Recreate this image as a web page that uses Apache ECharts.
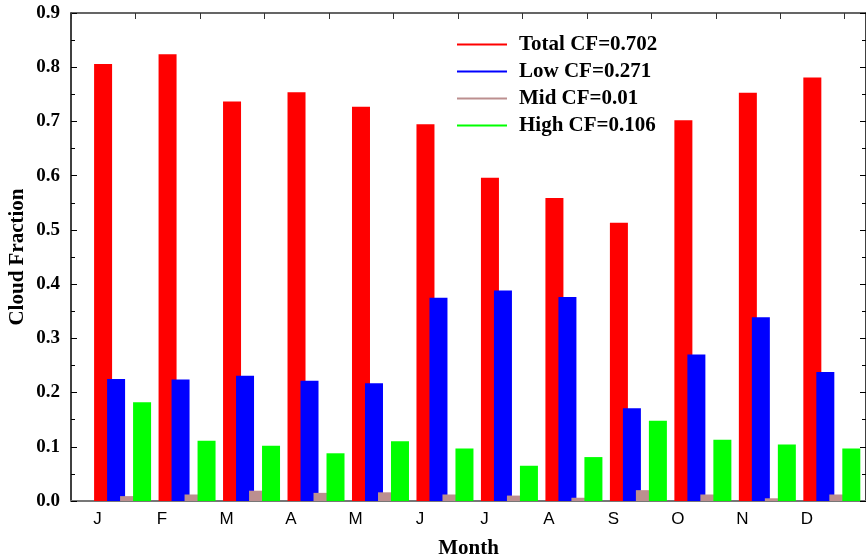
<!DOCTYPE html>
<html>
<head>
<meta charset="utf-8">
<script src="https://cdn.jsdelivr.net/npm/echarts@6/dist/echarts.min.js"></script>
<style>
  html, body { margin: 0; padding: 0; background: #fff; }
  #chart { width: 866px; height: 556px; }
</style>
</head>
<body>
<div id="chart"></div>
<script>
const months = ["J", "F", "M", "A", "M", "J", "J", "A", "S", "O", "N", "D"];
const totalCF = [0.806, 0.824, 0.737, 0.754, 0.727, 0.695, 0.596, 0.559, 0.513, 0.702, 0.753, 0.781];
const lowCF = [0.225, 0.224, 0.231, 0.222, 0.217, 0.375, 0.388, 0.376, 0.171, 0.270, 0.339, 0.238];
const midCF = [0.009, 0.012, 0.019, 0.015, 0.016, 0.012, 0.010, 0.006, 0.020, 0.012, 0.005, 0.012];
const highCF = [0.182, 0.111, 0.102, 0.088, 0.110, 0.097, 0.065, 0.081, 0.148, 0.113, 0.104, 0.097];
const names = ["Total CF=0.702", "Low CF=0.271", "Mid CF=0.01", "High CF=0.106"];
const colors = ["#ff0000", "#0000ff", "#bc8f8f", "#00ff00"];

// month k sits at x = k + 1 on the value axis
const toPairs = (arr) => arr.map((v, i) => [i + 1, v]);
const serif = "'Liberation Serif', 'Times New Roman', serif";

const chart = echarts.init(document.getElementById("chart"));
const option = {
  animation: false,
  color: colors,
  grid: { left: 71, right: 0, top: 13, bottom: 55, outerBoundsMode: "none", containLabel: false },
  legend: {
    orient: "vertical",
    left: 452,
    top: 29,
    itemWidth: 50,
    itemHeight: 2,
    itemGap: 6,
    icon: "rect",
    textStyle: {
      fontFamily: serif,
      fontWeight: "bold",
      fontSize: 21,
      color: "#000",
      padding: [0, 0, 0, 7],
    },
    data: names,
  },
  xAxis: [
    {
      type: "value",
      position: "bottom",
      min: 0.2,
      max: 12.53,
      name: "Month",
      nameLocation: "middle",
      nameGap: 37,
      nameTextStyle: { fontFamily: serif, fontWeight: "bold", fontSize: 21, color: "#000" },
      axisLine: { show: true, onZero: false, lineStyle: { color: "#777", width: 2 } },
      axisTick: { show: false },
      splitLine: { show: false },
      axisLabel: {
        customValues: months.map((m, i) => i + 1),
        formatter: (v) => months[Math.round(v) - 1] || "",
        fontFamily: "'Liberation Sans', Arial, sans-serif",
        fontSize: 17,
        color: "#000",
        margin: 10,
        padding: [0, 50, 0, 0],
      },
    },
    {
      type: "value",
      position: "top",
      min: 0,
      max: 12.33,
      interval: 1,
      axisLine: { show: true, onZero: false, lineStyle: { color: "#333", width: 1.5 } },
      axisTick: { show: true, inside: true, length: 6, lineStyle: { color: "#333" } },
      axisLabel: { show: false },
      splitLine: { show: false },
    },
  ],
  yAxis: [
    {
      type: "value",
      min: 0,
      max: 0.9,
      interval: 0.1,
      name: "Cloud Fraction",
      nameLocation: "middle",
      nameGap: 43,
      nameMoveOverlap: false,
      nameTextStyle: { fontFamily: serif, fontWeight: "bold", fontSize: 21, color: "#000" },
      axisLine: { show: true, onZero: false, lineStyle: { color: "#000", width: 1.5 } },
      axisTick: { show: true, inside: true, length: 6, lineStyle: { color: "#000" } },
      minorTick: { show: true, splitNumber: 2, length: 4, lineStyle: { color: "#000" } },
      splitLine: { show: false },
      axisLabel: {
        formatter: (v) => v.toFixed(1),
        fontFamily: serif,
        fontWeight: "bold",
        fontSize: 19,
        color: "#000",
        margin: 11,
      },
    },
    {
      type: "value",
      position: "right",
      min: 0,
      max: 0.9,
      interval: 0.1,
      axisLine: { show: true, onZero: false, lineStyle: { color: "#000", width: 1.5 } },
      axisTick: { show: true, inside: true, length: 6, lineStyle: { color: "#000" } },
      minorTick: { show: true, splitNumber: 2, length: 4, lineStyle: { color: "#000" } },
      splitLine: { show: false },
      axisLabel: { show: false },
    },
  ],
  series: [totalCF, lowCF, midCF, highCF].map((arr, i) => ({
    name: names[i],
    type: "bar",
    xAxisIndex: 0,
    yAxisIndex: 0,
    barWidth: 18,
    barGap: "-27.8%",
    data: toPairs(arr),
  })),
};
chart.setOption(option);
</script>
</body>
</html>
